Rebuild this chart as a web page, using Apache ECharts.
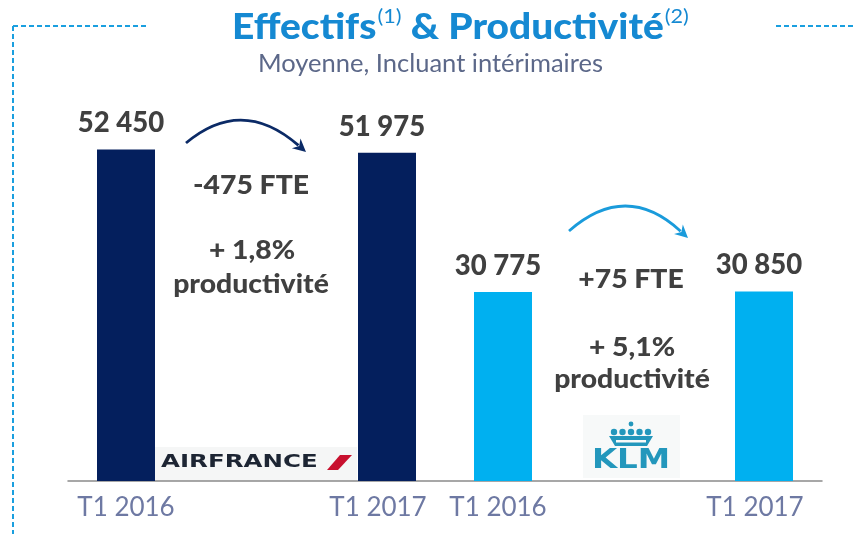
<!DOCTYPE html>
<html>
<head>
<meta charset="utf-8">
<script src="https://cdn.jsdelivr.net/npm/echarts@6/dist/echarts.min.js"></script>
<style>html,body{margin:0;padding:0;background:#fff;}#c{width:853px;height:534px;}</style>
</head>
<body>
<div id="c"></div>
<script>
// ---- data ----
const periods = ['T1 2016', 'T1 2017', 'T1 2016', 'T1 2017'];
const airlines = ['Air France', 'Air France', 'KLM', 'KLM'];
const headcount = [52450, 51975, 30775, 30850];
const changeFTE = ['-475 FTE', '+75 FTE'];
const productivity = ['+ 1,8%', '+ 5,1%'];

// ---- layout (spacer slots on the category axis) ----
const slotOf = [2, 11, 15, 24];
const labelPadRight = [0, 18, 10, 18];
const nSlots = 27;
const colorOf = { 'Air France': '#041F5D', 'KLM': '#00B0F0' };

const cats = [];
const barData = [];
for (let i = 0; i < nSlots; i++) { cats.push(''); barData.push('-'); }
periods.forEach((p, k) => {
  cats[slotOf[k]] = { value: p, textStyle: { padding: [0, labelPadRight[k], 0, 0] } };
  barData[slotOf[k]] = { value: headcount[k], itemStyle: { color: colorOf[airlines[k]] } };
});

function fmt(v) { return String(v).replace(/\B(?=(\d{3})+(?!\d))/g, ' '); }

const FONT = 'Lato, "Open Sans", sans-serif';
const DARK = '#404040';
const HEAVY = 900;

function arrow(x1, y1, cx, cy, x2, y2, color) {
  const dx = x2 - cx, dy = y2 - cy, L = Math.hypot(dx, dy);
  const ux = dx / L, uy = dy / L, px = -uy, py = ux;
  const len = 13, hw = 6.5;
  const bx = x2 - ux * len, by = y2 - uy * len;
  return [
    { type: 'bezierCurve', shape: { x1: x1, y1: y1, x2: bx + ux * 3, y2: by + uy * 3, cpx1: cx, cpy1: cy },
      style: { stroke: color, lineWidth: 2.8, fill: null } },
    { type: 'polygon', shape: { points: [[x2, y2], [bx + px * hw, by + py * hw], [bx + ux * 4, by + uy * 4], [bx - px * hw, by - py * hw]] },
      style: { fill: color } }
  ];
}

function note(text, x, y) {
  return { type: 'text', x: x, y: y, scaleX: 1.09, style: { text: text, fontFamily: FONT, fontWeight: HEAVY, fontSize: 26, fill: DARK, textAlign: 'center', textVerticalAlign: 'middle' } };
}

const chart = echarts.init(document.getElementById('c'));
const dashBlue = '#1A9FDF';
const graphics = [
  // frame
  { type: 'line', shape: { x1: 13, y1: 26, x2: 148, y2: 26 }, style: { stroke: dashBlue, lineWidth: 2, lineDash: [5, 3] } },
  { type: 'line', shape: { x1: 13, y1: 26, x2: 13, y2: 534 }, style: { stroke: dashBlue, lineWidth: 2, lineDash: [5, 3] } },
  { type: 'line', shape: { x1: 776, y1: 26, x2: 853, y2: 26 }, style: { stroke: dashBlue, lineWidth: 2, lineDash: [5, 3] } },
  // title
  { type: 'text', x: 232, y: 27, scaleX: 1.08, style: {
      text: '{b|Effectifs}{s|(1)}{b| & Productivité}{s|(2)}',
      textVerticalAlign: 'middle', textAlign: 'left',
      rich: {
        b: { fontFamily: FONT, fontWeight: HEAVY, fontSize: 36, fill: '#1589D2', lineHeight: 40 },
        s: { fontFamily: FONT, fontWeight: 'normal', fontSize: 20, fill: '#1589D2', verticalAlign: 'top', lineHeight: 40, padding: [0, 0, 14, 1] }
      } } },
  { type: 'text', x: 258, y: 64, style: { text: 'Moyenne, Incluant intérimaires', fontFamily: FONT, fontSize: 25.5, fill: '#5C6889', textVerticalAlign: 'middle', textAlign: 'left' } },
  // annotations
  note(changeFTE[0], 251, 186),
  note(productivity[0], 252, 251),
  note('productivité', 251, 285),
  note(changeFTE[1], 631, 280),
  note(productivity[1], 632, 348),
  note('productivité', 632, 380),
  // Air France logo
  { type: 'rect', shape: { x: 155, y: 447, width: 202, height: 34 }, style: { fill: '#F5F6F6' } },
  { type: 'text', x: 161, y: 462, scaleX: 1.36, style: { text: 'AIRFRANCE', fontFamily: '"DejaVu Sans", sans-serif', fontWeight: 'bold', fontSize: 18, fill: '#1D2533', textVerticalAlign: 'middle', textAlign: 'left' } },
  { type: 'polygon', shape: { points: [[340, 455], [352, 455], [338, 470], [327, 470]] }, style: { fill: '#C8102E' } },
  // KLM logo
  { type: 'rect', shape: { x: 583, y: 415, width: 97, height: 63 }, style: { fill: '#F7F9F9' } },
  { type: 'text', x: 631, y: 461, scaleX: 1.25, style: { text: 'KLM', fontFamily: '"DejaVu Sans", sans-serif', fontWeight: 'bold', fontSize: 26, fill: '#2397BC', textVerticalAlign: 'middle', textAlign: 'center' } }
];
// crown
[614, 622.5, 631, 639.5, 648].forEach(x => graphics.push({ type: 'circle', shape: { cx: x, cy: 432, r: 3.2 }, style: { fill: '#2397BC' } }));
graphics.push({ type: 'circle', shape: { cx: 631, cy: 424, r: 2.4 }, style: { fill: '#2397BC' } });
graphics.push({ type: 'polygon', shape: { points: [[609, 436], [653, 436], [647, 446], [615, 446]] }, style: { fill: '#2397BC' } });
graphics.push({ type: 'rect', shape: { x: 616, y: 440, width: 30, height: 2.5 }, style: { fill: '#F7F9F9' } });
// arrows
arrow(186, 143, 242, 96, 306, 152, '#0B2A66').forEach(g => graphics.push(g));
arrow(569, 231, 626, 181, 688, 238, '#1A9BDB').forEach(g => graphics.push(g));

chart.setOption({
  animation: false,
  grid: { left: 68, right: 31, top: 100, bottom: 53 },
  xAxis: {
    type: 'category', data: cats, boundaryGap: false,
    axisLine: { lineStyle: { color: '#8A8A8A', width: 1.5 } },
    axisTick: { show: false },
    axisLabel: { interval: 0, color: '#6E79A3', fontFamily: FONT, fontSize: 26, margin: 14 }
  },
  yAxis: { type: 'value', min: 2000, max: 60000, show: false, splitLine: { show: false } },
  series: [{
    type: 'bar', data: barData, barWidth: 58,
    label: { show: true, position: 'top', distance: 12, formatter: p => fmt(p.value), fontFamily: FONT, fontWeight: HEAVY, fontSize: 27.5, color: DARK, padding: [0, 10, 0, 0] }
  }],
  graphic: graphics
});
</script>
</body>
</html>
